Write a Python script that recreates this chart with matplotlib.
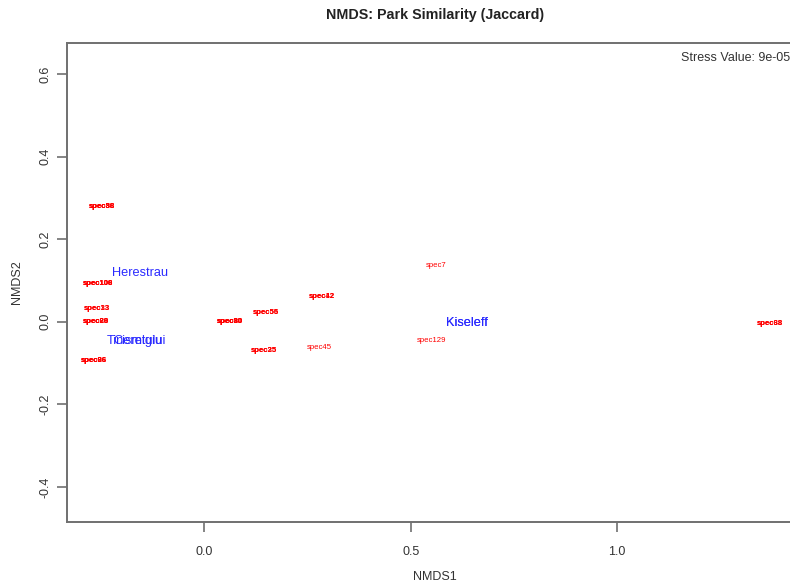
import numpy as np
import matplotlib
matplotlib.use('Agg')
import matplotlib.pyplot as plt

plt.rcParams['font.family'] = ['Liberation Sans', 'DejaVu Sans']

# species scores (labels overlap where several species share a position)
spec_names = ['spec36', 'spec88', 'spec58',
              'spec100', 'spec106', 'spec108',
              'spec13', 'spec33',
              'spec20', 'spec28', 'spec60',
              'spec26', 'spec66', 'spec96',
              'spec10', 'spec30', 'spec80', 'spec90',
              'spec55', 'spec56',
              'spec42', 'spec12',
              'spec25', 'spec35',
              'spec45',
              'spec7',
              'spec129',
              'spec38', 'spec68']
spec_x = [-0.248, -0.248, -0.248,
          -0.258, -0.258, -0.258,
          -0.260, -0.260,
          -0.262, -0.262, -0.262,
          -0.266, -0.266, -0.266,
          0.063, 0.063, 0.063, 0.063,
          0.149, 0.149,
          0.286, 0.286,
          0.144, 0.144,
          0.278,
          0.561,
          0.551,
          1.370, 1.370]
spec_y = [0.278, 0.278, 0.278,
          0.092, 0.092, 0.092,
          0.031, 0.031,
          0.000, 0.000, 0.000,
          -0.093, -0.093, -0.093,
          0.000, 0.000, 0.000, 0.000,
          0.022, 0.022,
          0.061, 0.061,
          -0.069, -0.069,
          -0.062,
          0.136,
          -0.046,
          -0.004, -0.004]

# site scores
site_names = ['Herestrau', 'Tineretului', 'Cismigiu', 'Kiseleff', 'Kiseleff']
site_x = [-0.155, -0.163, -0.161, 0.636, 0.637]
site_y = [0.119, -0.046, -0.046, -0.004, -0.004]

stress = '9e-05'

fig = plt.figure(figsize=(7.9, 5.84), dpi=100)
ax = fig.add_axes([67/790., 62/584., 736/790., 479/584.])

pts = list(zip(spec_x, spec_y))
for n, x, y in zip(spec_names, spec_x, spec_y):
    # stacked labels look heavier in the original
    w = 'bold' if pts.count((x, y)) > 1 else 'normal'
    ax.text(x, y, n, color='red', fontsize=5.6, ha='center', va='center', fontweight=w)
for n, x, y in zip(site_names, site_x, site_y):
    ax.text(x, y, n, color='#2a2aff', fontsize=9.2, ha='center', va='center')

ax.set_xlim(-0.332, 1.45)
ax.set_ylim(-0.485, 0.675)
ax.set_xticks([0.0, 0.5, 1.0])
ax.set_xticklabels(['0.0', '0.5', '1.0'])
ax.set_yticks([-0.4, -0.2, 0.0, 0.2, 0.4, 0.6])
ax.set_yticklabels(['-0.4', '-0.2', '0.0', '0.2', '0.4', '0.6'], rotation=90, va='center')

for s in ax.spines.values():
    s.set_color('#707070')
    s.set_linewidth(1.4)
ax.tick_params(direction='out', length=7, width=1.2, color='#707070',
               labelsize=9, labelcolor='#333333')
ax.tick_params(axis='x', pad=10)
ax.tick_params(axis='y', pad=4)

ax.set_xlabel('NMDS1', fontsize=9, color='#333333', labelpad=10)
ax.set_ylabel('NMDS2', fontsize=9, color='#333333', labelpad=12)
ax.set_title('NMDS: Park Similarity (Jaccard)', fontsize=10.3, fontweight='bold',
             color='#222222', pad=17)

ax.text(0.834, 0.969, 'Stress Value: ' + stress, transform=ax.transAxes,
        fontsize=9, color='#333333', ha='left', va='center')

plt.savefig('out.png', dpi=100)
